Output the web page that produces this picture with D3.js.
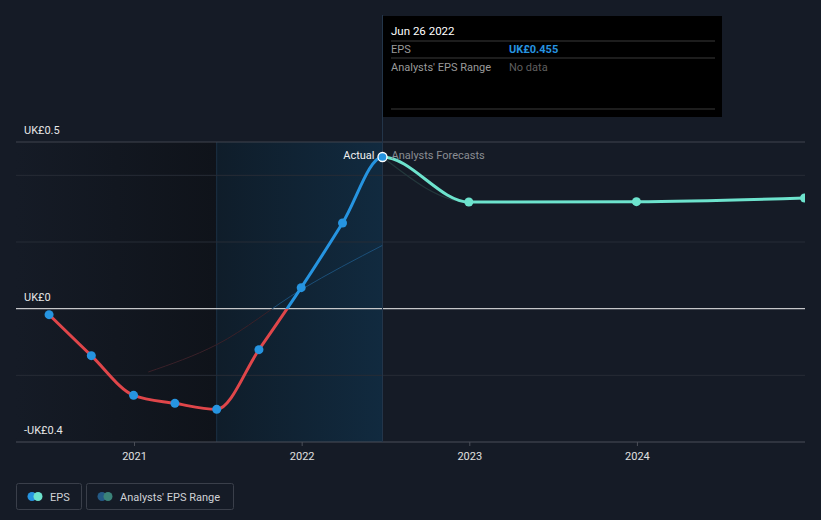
<!DOCTYPE html>
<html lang="en">
<head>
<meta charset="utf-8">
<title>EPS chart</title>
<script src="https://d3js.org/d3.v7.min.js"></script>
<style>
  body { margin: 0; background: #151b26; }
  svg { display: block; font-family: Roboto, "Noto Sans", sans-serif; }
</style>
</head>
<body>
<div id="container"></div>
<script>
// data
var actualDates = ["2020-06-30", "2020-09-30", "2020-12-31", "2021-03-31", "2021-06-30",
                   "2021-09-30", "2021-12-31", "2022-03-31", "2022-06-26"];
var actualEps = [-0.018, -0.141, -0.260, -0.284, -0.302, -0.123, 0.063, 0.257, 0.455];

var forecastDates = ["2022-06-26", "2022-12-31", "2023-12-31", "2024-12-31"];
var forecastEps = [0.455, 0.320, 0.321, 0.332];

// old forecast line (faint)
var pastDates = ["2021-02-01", "2021-06-30", "2021-12-31", "2022-06-26"];
var pastEps = [-0.19, -0.108, 0.057, 0.19];

var yTicks = [-0.4, 0, 0.5];
var yGrid = [-0.2, 0.2, 0.4];
var xTicks = ["2021-01-01", "2022-01-01", "2023-01-01", "2024-01-01"];

var w = 821, h = 520;
var pLeft = 16, pRight = 805, pTop = 142, pBottom = 442;
var parse = d3.timeParse("%Y-%m-%d");

var svg = d3.select("#container").append("svg")
  .attr("width", w).attr("height", h)
  .style("background-color", "#151b26");

var x = d3.scaleTime()
  .domain([parse("2020-04-19"), parse("2025-01-01")])
  .range([pLeft, pRight]);
var y = d3.scaleLinear().domain([-0.4, 0.5]).range([pBottom, pTop]);

var actual = actualDates.map(function(d, i) { return {date: parse(d), v: actualEps[i]}; });
var forecast = forecastDates.map(function(d, i) { return {date: parse(d), v: forecastEps[i]}; });
var past = pastDates.map(function(d, i) { return {date: parse(d), v: pastEps[i]}; });
var all = actual.concat(forecast.slice(1));

var splitDate = parse("2021-06-30");
var lastDate = actual[actual.length - 1].date;
var xNow = x(lastDate);

var defs = svg.append("defs");
var g1 = defs.append("linearGradient").attr("id", "pastShade");
g1.append("stop").attr("offset", "0%").attr("stop-color", "#151b26");
g1.append("stop").attr("offset", "100%").attr("stop-color", "#0f131a");
var g2 = defs.append("linearGradient").attr("id", "nowShade");
g2.append("stop").attr("offset", "0%").attr("stop-color", "#0f1d2a");
g2.append("stop").attr("offset", "100%").attr("stop-color", "#112a3f");

defs.append("clipPath").attr("id", "plot")
  .append("rect").attr("x", pLeft).attr("y", 0).attr("width", pRight - pLeft).attr("height", h);
defs.append("clipPath").attr("id", "above")
  .append("rect").attr("x", 0).attr("y", 0).attr("width", xNow).attr("height", y(0));
defs.append("clipPath").attr("id", "below")
  .append("rect").attr("x", 0).attr("y", y(0)).attr("width", xNow).attr("height", h - y(0));
defs.append("clipPath").attr("id", "future")
  .append("rect").attr("x", xNow).attr("y", 0).attr("width", w - xNow).attr("height", h);

// shaded areas
svg.append("rect").attr("x", pLeft).attr("y", pTop)
  .attr("width", x(splitDate) - pLeft).attr("height", pBottom - pTop)
  .attr("fill", "url(#pastShade)");
svg.append("rect").attr("x", x(splitDate)).attr("y", pTop)
  .attr("width", xNow - x(splitDate)).attr("height", pBottom - pTop)
  .attr("fill", "url(#nowShade)");
svg.append("line").attr("x1", x(splitDate)).attr("x2", x(splitDate))
  .attr("y1", pTop).attr("y2", pBottom).attr("stroke", "#1a3044").attr("stroke-width", 1);

// grid
svg.selectAll(".grid").data(yGrid).enter().append("line")
  .attr("x1", pLeft).attr("x2", pRight)
  .attr("y1", function(d) { return y(d); }).attr("y2", function(d) { return y(d); })
  .attr("stroke", "#272c36").attr("stroke-width", 1);
svg.append("line").attr("x1", pLeft).attr("x2", pRight).attr("y1", y(0.5)).attr("y2", y(0.5))
  .attr("stroke", "#41454e").attr("stroke-width", 1);
svg.append("line").attr("x1", pLeft).attr("x2", pRight).attr("y1", y(0)).attr("y2", y(0))
  .attr("stroke", "#c6c7c9").attr("stroke-width", 1.2);

// x axis
var xAxis = svg.append("g").attr("transform", "translate(0," + pBottom + ")")
  .call(d3.axisBottom(x).tickValues(xTicks.map(parse)).tickFormat(d3.timeFormat("%Y"))
    .tickSize(4).tickPadding(6));
xAxis.select(".domain").attr("stroke", "#4b4f58").attr("d", "M" + pLeft + ",0H" + pRight);
xAxis.selectAll(".tick line").attr("stroke", "#4b4f58");
xAxis.selectAll(".tick text").attr("fill", "#e0e0e0").attr("font-size", 11)
  .attr("font-family", "Roboto, sans-serif");

// y labels
svg.selectAll(".ylab").data(yTicks).enter().append("text")
  .attr("x", 24).attr("y", function(d) { return y(d) - 8; })
  .attr("fill", "#e6e6e6").attr("font-size", 11)
  .text(function(d) { return d === 0 ? "UK£0" : (d < 0 ? "-UK£" + Math.abs(d) : "UK£" + d); });

// vertical now line
svg.append("line").attr("x1", xNow).attr("x2", xNow)
  .attr("y1", 15).attr("y2", pBottom).attr("stroke", "#24364a").attr("stroke-width", 1);

var line = d3.line().curve(d3.curveMonotoneX)
  .x(function(d) { return x(d.date); }).y(function(d) { return y(d.v); });

var plot = svg.append("g").attr("clip-path", "url(#plot)");

// faint past forecast
plot.append("g").attr("clip-path", "url(#below)").append("path").datum(past)
  .attr("d", line).attr("fill", "none")
  .attr("stroke", "#3a2129").attr("stroke-width", 1);
plot.append("g").attr("clip-path", "url(#above)").append("path").datum(past)
  .attr("d", line).attr("fill", "none")
  .attr("stroke", "#1c4f78").attr("stroke-width", 1);

// analysts range (single estimate, thin)
plot.append("path").datum(forecast)
  .attr("d", d3.line().curve(d3.curveMonotoneX).x(function(d) { return x(d.date); }).y(function(d) { return y(d.v); }))
  .attr("fill", "none").attr("stroke", "#24383c").attr("stroke-width", 1.2);

// forecast line (smoothed with the actual series)
plot.append("g").attr("clip-path", "url(#future)").append("path").datum(all)
  .attr("d", line).attr("fill", "none")
  .attr("stroke", "#6de3cd").attr("stroke-width", 3);

// actual line, red below zero and blue above
plot.append("g").attr("clip-path", "url(#below)").append("path").datum(all)
  .attr("d", line).attr("fill", "none").attr("stroke", "#e0464a").attr("stroke-width", 3);
plot.append("g").attr("clip-path", "url(#above)").append("path").datum(all)
  .attr("d", line).attr("fill", "none").attr("stroke", "#2694e0").attr("stroke-width", 3);

plot.selectAll(".fdot").data(forecast.slice(1)).enter().append("circle")
  .attr("cx", function(d) { return x(d.date); }).attr("cy", function(d) { return y(d.v); })
  .attr("r", 4.5).attr("fill", "#6de3cd");

plot.selectAll(".adot").data(actual.slice(0, -1)).enter().append("circle")
  .attr("cx", function(d) { return x(d.date); }).attr("cy", function(d) { return y(d.v); })
  .attr("r", 4.5).attr("fill", "#2694e0");

var last = actual[actual.length - 1];
plot.append("circle").attr("cx", xNow).attr("cy", y(last.v))
  .attr("r", 4.5).attr("fill", "#2694e0").attr("stroke", "#ffffff").attr("stroke-width", 1.3);

svg.append("text").attr("x", xNow - 8).attr("y", y(last.v) + 2)
  .attr("text-anchor", "end").attr("fill", "#f0f0f0").attr("font-size", 11).text("Actual");
svg.append("text").attr("x", xNow + 9).attr("y", y(last.v) + 2)
  .attr("fill", "#8a8d93").attr("font-size", 11).text("Analysts Forecasts");

// tooltip
var tip = svg.append("g").attr("transform", "translate(383,16)");
tip.append("rect").attr("width", 339).attr("height", 101).attr("fill", "#000");
tip.append("text").attr("x", 8).attr("y", 19).attr("fill", "#fff").attr("font-size", 11.5)
  .text("Jun 26 2022");
[25, 42, 93].forEach(function(yy) {
  tip.append("line").attr("x1", 8).attr("x2", 332).attr("y1", yy).attr("y2", yy)
    .attr("stroke", "#3a3a3a").attr("stroke-width", 1);
});
tip.append("text").attr("x", 8).attr("y", 37).attr("fill", "#9a9a9a").attr("font-size", 11).text("EPS");
tip.append("text").attr("x", 126).attr("y", 37).attr("fill", "#2694e0").attr("font-size", 11)
  .attr("font-weight", "bold").text("UK£" + last.v.toFixed(3));
tip.append("text").attr("x", 8).attr("y", 55).attr("fill", "#9a9a9a").attr("font-size", 11)
  .text("Analysts' EPS Range");
tip.append("text").attr("x", 126).attr("y", 55).attr("fill", "#5f5f5f").attr("font-size", 11)
  .text("No data");

// legend
var legend = [
  {label: "EPS", x: 16, w: 65, c1: "#2694e0", c2: "#6de3cd"},
  {label: "Analysts' EPS Range", x: 86, w: 147, c1: "#245a86", c2: "#3b8379"}
];
var lg = svg.selectAll(".leg").data(legend).enter().append("g")
  .attr("transform", function(d) { return "translate(" + d.x + ",483)"; });
lg.append("rect").attr("x", 0.5).attr("y", 0.5).attr("width", function(d) { return d.w; })
  .attr("height", 26).attr("rx", 2).attr("fill", "none").attr("stroke", "#3a3f4a");
lg.append("circle").attr("cx", 16).attr("cy", 13.5).attr("r", 4.5).attr("fill", function(d) { return d.c1; });
lg.append("circle").attr("cx", 22).attr("cy", 13.5).attr("r", 4.5).attr("fill", function(d) { return d.c2; });
lg.append("text").attr("x", 34).attr("y", 17.5).attr("fill", "#d0d2d6").attr("font-size", 11)
  .text(function(d) { return d.label; });
</script>
</body>
</html>
